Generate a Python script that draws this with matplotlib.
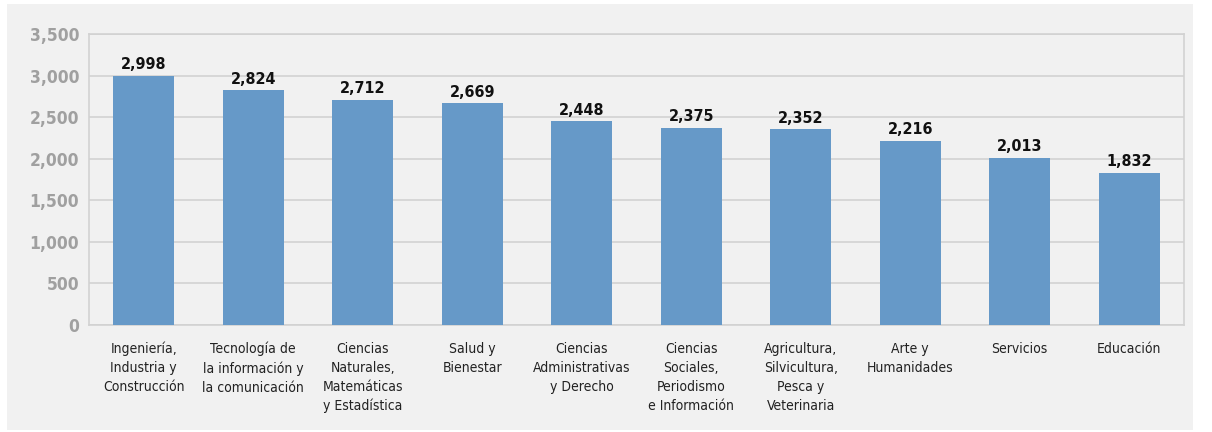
import numpy as np
from matplotlib import pyplot as plt
from matplotlib.patches import Rectangle
from matplotlib import font_manager

# salario promedio por campo de estudio
areas = ['Ingeniería,\nIndustria y\nConstrucción',
         'Tecnología de\nla información y\nla comunicación',
         'Ciencias\nNaturales,\nMatemáticas\ny Estadística',
         'Salud y\nBienestar',
         'Ciencias\nAdministrativas\ny Derecho',
         'Ciencias\nSociales,\nPeriodismo\ne Información',
         'Agricultura,\nSilvicultura,\nPesca y\nVeterinaria',
         'Arte y\nHumanidades',
         'Servicios',
         'Educación']
valores = [2998, 2824, 2712, 2669, 2448, 2375, 2352, 2216, 2013, 1832]
yticks = [0, 500, 1000, 1500, 2000, 2500, 3000, 3500]

# buscar una fuente estrecha para las etiquetas
fonts = font_manager.fontManager.ttflist
names = {f.name for f in fonts}
cond = any(f.name == 'DejaVu Sans' and 'condensed' in str(f.stretch) for f in fonts)
if cond:
    cat_font = dict(family='DejaVu Sans', fontstretch='condensed', fontsize=10)
    num_font = dict(family='DejaVu Sans', fontstretch='condensed')
elif 'Liberation Sans Narrow' in names:
    cat_font = dict(family='Liberation Sans Narrow', fontsize=10.5)
    num_font = dict(family='Liberation Sans Narrow')
else:
    cat_font = dict(family='Roboto', fontsize=10)
    num_font = dict(family='DejaVu Sans')

bg = '#f1f1f1'
grid = '#d2d2d2'

fig = plt.figure(figsize=(12.12, 4.32), dpi=100, facecolor='white')
fig.add_artist(Rectangle((7 / 1212, 2 / 432), 1186 / 1212, 426 / 432,
                         transform=fig.transFigure, facecolor=bg,
                         edgecolor='none', zorder=-10))

ax = fig.add_axes([89 / 1212, 1 - 325 / 432, 1095 / 1212, 291 / 432])
ax.set_facecolor(bg)

x = np.arange(len(valores))
bars = ax.bar(x, valores, width=0.56, color='#6699c8', zorder=3)
for b, v in zip(bars, valores):
    ax.text(b.get_x() + b.get_width() / 2, v + 40, f'{v:,}', ha='center', va='bottom',
            fontsize=11.5, fontweight='bold', color='#111111', zorder=4, **num_font)

ax.set_xlim(-0.5, len(valores) - 0.5)
ax.set_ylim(0, 3500)
ax.set_yticks(yticks)
ax.set_yticklabels([f'{t:,}' for t in yticks], fontsize=12.5, fontweight='bold',
                   color='#a0a0a0', **num_font)
ax.set_xticks(x)
ax.set_xticklabels(areas, color='#222222', va='top', linespacing=1.45, **cat_font)
ax.tick_params(axis='both', length=0)
ax.tick_params(axis='x', pad=12)
ax.tick_params(axis='y', pad=7)
ax.yaxis.grid(True, color=grid, linewidth=1.2, zorder=0)
for s in ax.spines.values():
    s.set_color(grid)
    s.set_linewidth(1.2)

fig.savefig('out.png', dpi=100, facecolor='white')
